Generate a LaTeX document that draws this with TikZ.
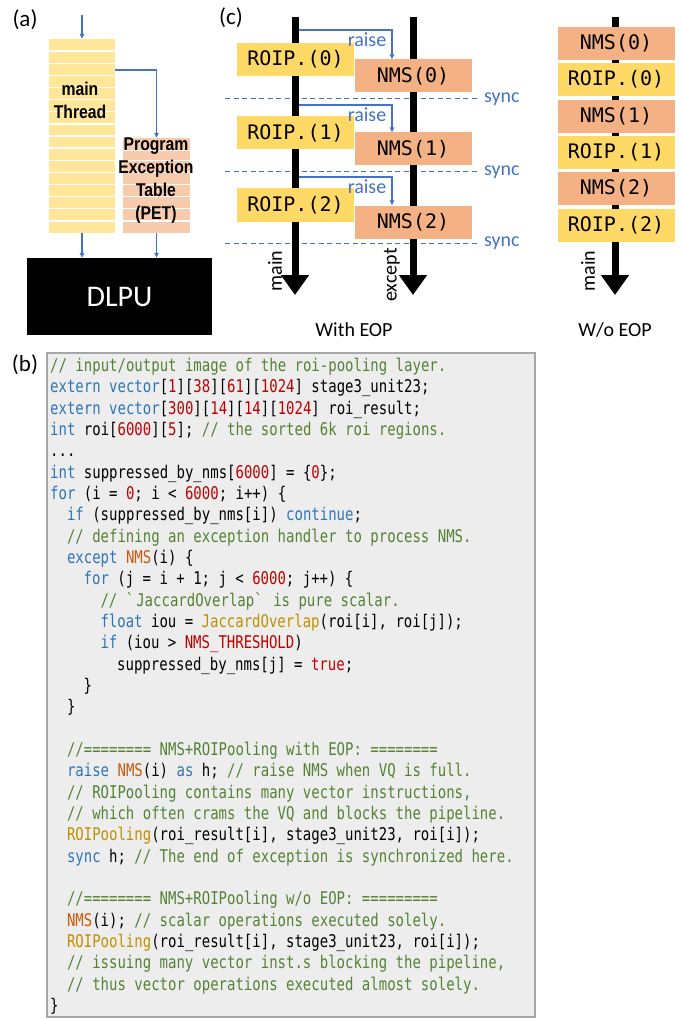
\documentclass[tikz,border=0pt]{standalone}
\usepackage{fontspec}
\usetikzlibrary{arrows.meta}
\newfontfamily\codefont{DejaVu Sans Mono}[FakeStretch=0.8]
\newfontfamily\boxfont{DejaVu Sans Mono}
\newfontfamily\calfont{Carlito}
\newfontfamily\narrowfont{Liberation Sans}[FakeStretch=0.85]

\definecolor{cmgreen}{HTML}{548235}
\definecolor{kwblue}{HTML}{2E75B6}
\definecolor{numred}{HTML}{C00000}
\definecolor{fnorange}{HTML}{C55A11}
\definecolor{fngold}{HTML}{BF9000}
\definecolor{lineblue}{HTML}{4472C4}
\definecolor{stackyellow}{HTML}{FFE699}
\definecolor{petorange}{HTML}{F8CBAD}
\definecolor{roiyellow}{HTML}{FFD966}
\definecolor{nmsorange}{HTML}{F4B183}
\definecolor{codegray}{HTML}{EDEDED}
\definecolor{codeframe}{HTML}{A6A6A6}

\newcommand{\cmt}[1]{\textcolor{cmgreen}{#1}}
\newcommand{\kwd}[1]{\textcolor{kwblue}{#1}}
\newcommand{\nmb}[1]{\textcolor{numred}{#1}}
\newcommand{\fno}[1]{\textcolor{fnorange}{#1}}
\newcommand{\fgo}[1]{\textcolor{fngold}{#1}}

\tikzset{
  panel/.style={font=\calfont\fontsize{23}{27}\selectfont},
  codeline/.style={anchor=west, inner sep=0pt, text height=13pt, text depth=4pt,
    font=\codefont\fontsize{17.5}{20}\selectfont},
  roip/.style={fill=roiyellow, minimum width=117pt, minimum height=33pt, inner sep=0pt,
    font=\boxfont\fontsize{20}{24}\selectfont},
  nms/.style={roip, fill=nmsorange},
  stacktext/.style={align=center, inner sep=0pt, font=\narrowfont\bfseries\fontsize{18.5}{23}\selectfont},
  thinarrow/.style={draw=lineblue, line width=1.1pt, -{Triangle[length=5pt,width=4.5pt]}},
  bigarrow/.style={line width=7pt, -{Triangle[length=20pt,width=27pt]}},
  syncline/.style={draw=lineblue, line width=1pt, dash pattern=on 5pt off 3.5pt},
  bluelabel/.style={text=lineblue, inner sep=0pt, font=\calfont\fontsize{20}{24}\selectfont},
  callabel/.style={inner sep=0pt, font=\calfont\fontsize{20}{24}\selectfont}
}

\begin{document}
\begin{tikzpicture}[x=1pt,y=-1pt]
\useasboundingbox (0,0) rectangle (682,1019);

% (a) main thread and PET
\node[panel] (pa) at (25,20) {(a)};
\node[fill=stackyellow, minimum width=66pt, minimum height=194pt, inner sep=0pt] (mt) at (82,136) {};
\node[fill=petorange, minimum width=67pt, minimum height=95pt, inner sep=0pt] (pet) at (156.5,185.5) {};
\draw[white, line width=1.3pt] (49,51.1) -- (115,51.1);
\draw[white, line width=1.3pt] (49,63.3) -- (115,63.3);
\draw[white, line width=1.3pt] (49,75.4) -- (115,75.4);
\draw[white, line width=1.3pt] (49,87.5) -- (115,87.5);
\draw[white, line width=1.3pt] (49,99.6) -- (115,99.6);
\draw[white, line width=1.3pt] (49,111.8) -- (115,111.8);
\draw[white, line width=1.3pt] (49,123.9) -- (115,123.9);
\draw[white, line width=1.3pt] (49,136) -- (115,136);
\draw[white, line width=1.3pt] (49,148.1) -- (115,148.1);
\draw[white, line width=1.3pt] (49,160.3) -- (115,160.3);
\draw[white, line width=1.3pt] (49,172.4) -- (115,172.4);
\draw[white, line width=1.3pt] (49,184.5) -- (115,184.5);
\draw[white, line width=1.3pt] (49,196.6) -- (115,196.6);
\draw[white, line width=1.3pt] (49,208.8) -- (115,208.8);
\draw[white, line width=1.3pt] (49,220.9) -- (115,220.9);
\draw[white, line width=1.3pt] (123,150.5) -- (190,150.5);
\draw[white, line width=1.3pt] (123,160.3) -- (190,160.3);
\draw[white, line width=1.3pt] (123,172.4) -- (190,172.4);
\draw[white, line width=1.3pt] (123,184.5) -- (190,184.5);
\draw[white, line width=1.3pt] (123,196.6) -- (190,196.6);
\draw[white, line width=1.3pt] (123,208.8) -- (190,208.8);
\draw[white, line width=1.3pt] (123,220.9) -- (190,220.9);
\node[stacktext] (mtl) at (80,100) {main\\Thread};
\node[stacktext] (petl) at (156,181) {Program\\Exception\\Table\\(PET)};
\node[fill=black, text=white, minimum width=185pt, minimum height=77pt, inner sep=0pt,
  font=\calfont\fontsize{30}{36}\selectfont] (dlpu) at (119.5,296.5) {DLPU};
\coordinate (in) at (82,15);
\coordinate (fork) at (115,70);
\draw[thinarrow] (in) -- (mt.north);
\draw[thinarrow] (fork) -| (pet.north);
\draw[thinarrow] (mt.south) -- (mt.south |- dlpu.north);
\draw[thinarrow] (pet.south) -- (pet.south |- dlpu.north);

% (c) with EOP / w/o EOP
\node[panel] (pc) at (231,18) {(c)};
\coordinate (mtop) at (295,17);
\coordinate (mtip) at (295,295);
\coordinate (etop) at (413,17);
\coordinate (etip) at (413,295);
\coordinate (wtop) at (615,17);
\coordinate (wtip) at (615,295);
\draw[syncline] (225,99) -- (478,99);
\draw[syncline] (225,172) -- (478,172);
\draw[syncline] (225,243) -- (478,243);
\draw[bigarrow] (mtop) -- (mtip);
\draw[bigarrow] (etop) -- (etip);
\draw[bigarrow] (wtop) -- (wtip);
\node[roip] (p0) at (295.5,59.5) {ROIP.(0)};
\node[nms] (n0) at (413,76) {NMS(0)};
\node[roip] (p1) at (295.5,133) {ROIP.(1)};
\node[nms] (n1) at (413,149) {NMS(1)};
\node[roip] (p2) at (295.5,205) {ROIP.(2)};
\node[nms] (n2) at (413,222) {NMS(2)};
\coordinate (r0) at (299,30);
\coordinate (r1) at (299,105);
\coordinate (r2) at (299,177);
\draw[thinarrow] (r0) -| ([xshift=-21pt]n0.north);
\draw[thinarrow] (r1) -| ([xshift=-21pt]n1.north);
\draw[thinarrow] (r2) -| ([xshift=-21pt]n2.north);
\node[bluelabel] (rl0) at (367,40) {raise};
\node[bluelabel] (rl1) at (367,115) {raise};
\node[bluelabel] (rl2) at (367,187) {raise};
\node[bluelabel, anchor=west] (s0) at (484,99) {sync};
\node[bluelabel, anchor=west] (s1) at (484,172) {sync};
\node[bluelabel, anchor=west] (s2) at (484,243) {sync};
\node[nms] (w0) at (616,43.5) {NMS(0)};
\node[roip] (w1) at (616,79.5) {ROIP.(0)};
\node[nms] (w2) at (616,116.5) {NMS(1)};
\node[roip] (w3) at (616,152.5) {ROIP.(1)};
\node[nms] (w4) at (616,188.5) {NMS(2)};
\node[roip] (w5) at (616,225.5) {ROIP.(2)};
\node[callabel, rotate=90] (ml) at (275,271) {main};
\node[callabel, rotate=90] (el) at (392,275) {except};
\node[callabel, rotate=90] (wl) at (588,271) {main};
\node[callabel] (with) at (354,330) {With EOP};
\node[callabel] (wo) at (615,330) {W/o EOP};

% (b) code listing
\node[panel] (pb) at (25,365) {(b)};
\node[draw=codeframe, fill=codegray, line width=1.2pt, minimum width=488pt, minimum height=664pt,
  inner sep=0pt] (codebg) at (291,685) {};
\node[codeline] (l1) at (50,367) {\cmt{// input/output image of the roi-pooling layer.}};
\node[codeline] (l2) at (50,388.3) {\kwd{extern} \kwd{vector}[\nmb{1}][\nmb{38}][\nmb{61}][\nmb{1024}] stage3\_unit23;};
\node[codeline] (l3) at (50,409.7) {\kwd{extern} \kwd{vector}[\nmb{300}][\nmb{14}][\nmb{14}][\nmb{1024}] roi\_result;};
\node[codeline] (l4) at (50,431) {\kwd{int} roi[\nmb{6000}][\nmb{5}]; \cmt{// the sorted 6k roi regions.}};
\node[codeline] (l5) at (50,452.3) {...};
\node[codeline] (l6) at (50,473.7) {\kwd{int} suppressed\_by\_nms[\nmb{6000}] = \{\nmb{0}\};};
\node[codeline] (l7) at (50,495) {\kwd{for} (i = \nmb{0}; i < \nmb{6000}; i++) \{};
\node[codeline] (l8) at (66.8,516.3) {\kwd{if} (suppressed\_by\_nms[i]) \kwd{continue};};
\node[codeline] (l9) at (66.8,537.7) {\cmt{// defining an exception handler to process NMS.}};
\node[codeline] (l10) at (66.8,559) {\kwd{except} \fno{NMS}(i) \{};
\node[codeline] (l11) at (83.5,580.3) {\kwd{for} (j = i + 1; j < \nmb{6000}; j++) \{};
\node[codeline] (l12) at (100.3,601.7) {\cmt{// \textasciigrave JaccardOverlap\textasciigrave{} is pure scalar.}};
\node[codeline] (l13) at (100.3,623) {\kwd{float} iou = \fgo{JaccardOverlap}(roi[i], roi[j]);};
\node[codeline] (l14) at (100.3,644.3) {\kwd{if} (iou > \nmb{NMS\_THRESHOLD})};
\node[codeline] (l15) at (117,665.7) {suppressed\_by\_nms[j] = \nmb{true};};
\node[codeline] (l16) at (83.5,687) {\}};
\node[codeline] (l17) at (66.8,708.3) {\}};
\node[codeline] (l19) at (66.8,751) {\cmt{//======== NMS+ROIPooling with EOP: ========}};
\node[codeline] (l20) at (66.8,772.3) {\kwd{raise} \fno{NMS}(i) \kwd{as} h; \cmt{// raise NMS when VQ is full.}};
\node[codeline] (l21) at (66.8,793.7) {\cmt{// ROIPooling contains many vector instructions,}};
\node[codeline] (l22) at (66.8,815) {\cmt{// which often crams the VQ and blocks the pipeline.}};
\node[codeline] (l23) at (66.8,836.3) {\fgo{ROIPooling}(roi\_result[i], stage3\_unit23, roi[i]);};
\node[codeline] (l24) at (66.8,857.7) {\kwd{sync} h; \cmt{// The end of exception is synchronized here.}};
\node[codeline] (l26) at (66.8,900.3) {\cmt{//======== NMS+ROIPooling w/o EOP: =========}};
\node[codeline] (l27) at (66.8,921.7) {\fno{NMS}(i); \cmt{// scalar operations executed solely.}};
\node[codeline] (l28) at (66.8,943) {\fgo{ROIPooling}(roi\_result[i], stage3\_unit23, roi[i]);};
\node[codeline] (l29) at (66.8,964.3) {\cmt{// issuing many vector inst.s blocking the pipeline,}};
\node[codeline] (l30) at (66.8,985.7) {\cmt{// thus vector operations executed almost solely.}};
\node[codeline] (l31) at (50,1007) {\}};
\end{tikzpicture}
\end{document}
